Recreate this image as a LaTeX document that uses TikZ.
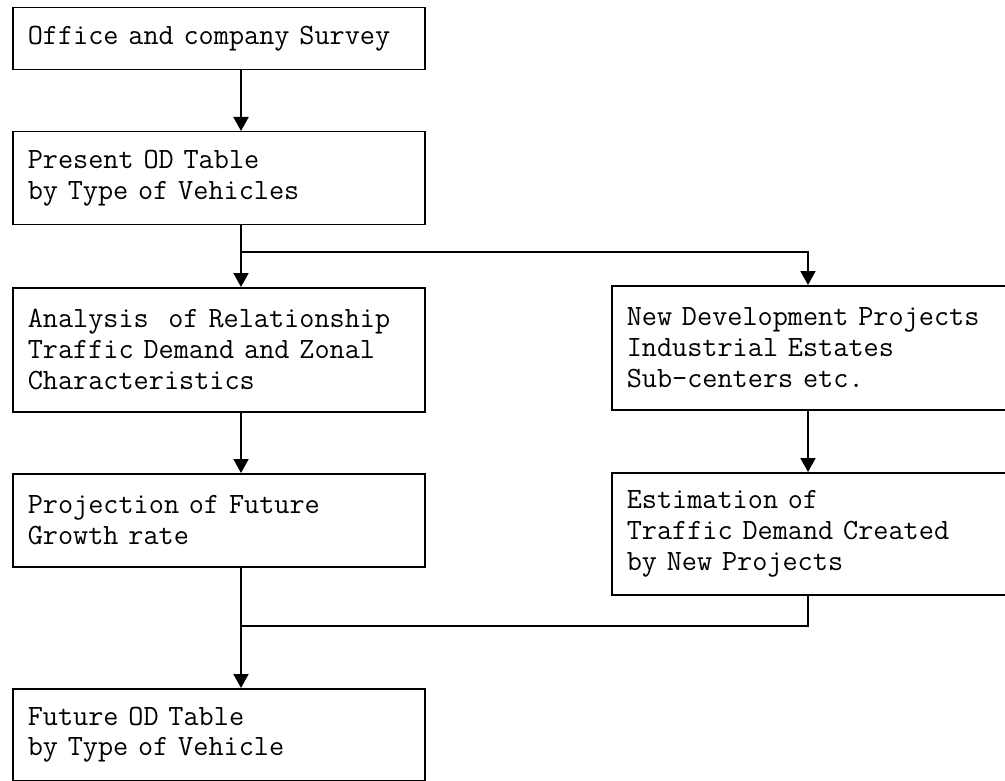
\documentclass[tikz,border=0pt]{standalone}
\usepackage{fontspec}
\usetikzlibrary{arrows.meta}
\begin{document}
\begin{tikzpicture}[x=1pt,y=-1pt,
  box/.style={draw, line width=1.5pt, anchor=north west, inner xsep=15pt, inner ysep=0pt,
    text width=382pt, align=left,
    font={\ttfamily\fontsize{29.4pt}{30.8pt}\selectfont\frenchspacing}},
  arr/.style={line width=2pt, -{Triangle[width=15pt,length=14pt]}},
  ln/.style={line width=1.5pt}]
\useasboundingbox (0,0) rectangle (1005,781);
\clip (0,0) rectangle (1005,781);
\fill[white] (0,0) rectangle (1005,781);
\node[box, minimum height=62pt] (b1) at (12,7) {Office and company Survey};
\node[box, minimum height=93pt] (b2) at (12,131) {Present OD Table\\by Type of Vehicles};
\node[box, minimum height=124pt] (b3) at (12,287) {Analysis~~of Relationship\\Traffic Demand and Zonal\\Characteristics};
\node[box, minimum height=93pt] (b4) at (12,473) {Projection of Future\\Growth rate};
\node[box, minimum height=124pt] (nd) at (611,285) {New Development Projects\\Industrial Estates\\Sub-centers etc.};
\node[box, minimum height=122pt] (est) at (611,472) {Estimation of\\Traffic Demand Created\\by New Projects};
\node[box, minimum height=92pt] (fut) at (12,688) {Future OD Table\\by Type of Vehicle};
\coordinate (mx) at (241,0);
\coordinate (rx) at (808,0);
\coordinate (br) at (241,252);
\coordinate (jn) at (241,626);
\draw[arr] (b1.south -| mx) -- (b2.north -| mx);
\draw[arr] (b2.south -| mx) -- (b3.north -| mx);
\draw[arr] (br) -| (nd.north -| rx);
\draw[arr] (b3.south -| mx) -- (b4.north -| mx);
\draw[arr] (nd.south -| rx) -- (est.north -| rx);
\draw[arr] (b4.south -| mx) -- (fut.north -| mx);
\draw[ln] (est.south -| rx) |- (jn);
\end{tikzpicture}
\end{document}
